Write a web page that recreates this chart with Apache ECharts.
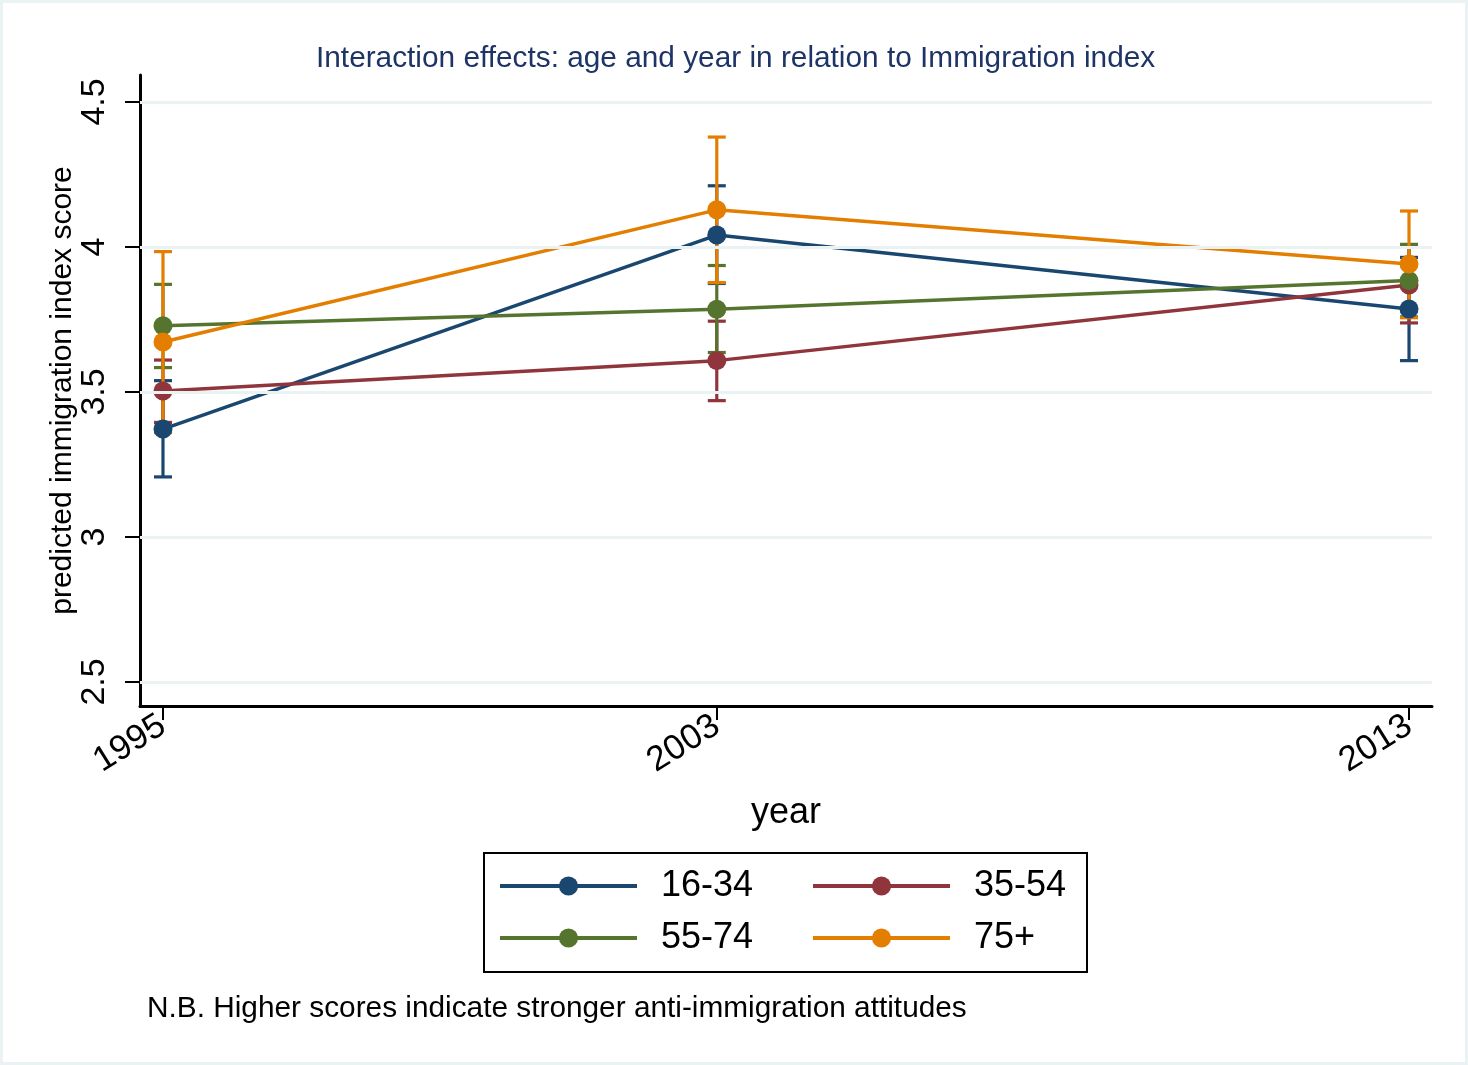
<!DOCTYPE html>
<html>
<head>
<meta charset="utf-8">
<script src="https://cdn.jsdelivr.net/npm/echarts@6/dist/echarts.min.js"></script>
<style>
html,body{margin:0;padding:0;background:#fff;}
#chart{width:1468px;height:1065px;}
</style>
</head>
<body>
<div id="chart"></div>
<script>
// ---- data ----
const years = [1995, 2003, 2013];
const groups = ['16-34', '35-54', '55-74', '75+'];
const yTicks = [2.5, 3, 3.5, 4, 4.5];

const est_16_34 = [3.372, 4.041, 3.786];
const lo_16_34  = [3.207, 3.874, 3.608];
const hi_16_34  = [3.539, 4.211, 3.964];

const est_35_54 = [3.503, 3.608, 3.869];
const lo_35_54  = [3.395, 3.470, 3.738];
const hi_35_54  = [3.610, 3.744, 4.000];

const est_55_74 = [3.728, 3.785, 3.884];
const lo_55_74  = [3.584, 3.636, 3.759];
const hi_55_74  = [3.871, 3.936, 4.009];

const est_75p = [3.672, 4.128, 3.941];
const lo_75p  = [3.360, 3.877, 3.756];
const hi_75p  = [3.984, 4.379, 4.124];

const colors = ['#1a476f', '#90353b', '#55752f', '#e37e00'];
const estimates = [est_16_34, est_35_54, est_55_74, est_75p];
const lows = [lo_16_34, lo_35_54, lo_55_74, lo_75p];
const highs = [hi_16_34, hi_35_54, hi_55_74, hi_75p];

const FONT = '"Liberation Sans", Arial, Helvetica, sans-serif';

const chart = echarts.init(document.getElementById('chart'), null, {renderer: 'canvas'});

const ciSeries = groups.map((g, i) => ({
  type: 'custom',
  name: g + ' CI',
  data: years.map((y, k) => [y, lows[i][k], highs[i][k]]),
  renderItem: function (params, api) {
    const x = api.value(0);
    const pLo = api.coord([x, api.value(1)]);
    const pHi = api.coord([x, api.value(2)]);
    const hw = 9;
    const style = {stroke: colors[i], lineWidth: 3.2, fill: null};
    return {
      type: 'group',
      children: [
        {type: 'line', shape: {x1: pLo[0], y1: pLo[1], x2: pHi[0], y2: pHi[1]}, style: style},
        {type: 'line', shape: {x1: pLo[0] - hw, y1: pLo[1], x2: pLo[0] + hw, y2: pLo[1]}, style: style},
        {type: 'line', shape: {x1: pHi[0] - hw, y1: pHi[1], x2: pHi[0] + hw, y2: pHi[1]}, style: style}
      ]
    };
  },
  silent: true,
  z: 2
}));

const lineSeries = groups.map((g, i) => ({
  type: 'line',
  name: g,
  data: years.map((y, k) => [y, estimates[i][k]]),
  symbol: 'circle',
  symbolSize: 19,
  showSymbol: true,
  lineStyle: {color: colors[i], width: 3.5},
  itemStyle: {color: colors[i]},
  emphasis: {disabled: true},
  animation: false,
  z: 3
}));

const gridSeries = {
  type: 'line',
  name: 'grid',
  data: [],
  silent: true,
  z: 1,
  markLine: {
    silent: true,
    symbol: ['none', 'none'],
    label: {show: false},
    lineStyle: {color: '#eaf2f3', width: 3, type: 'solid'},
    data: yTicks.map(v => ({yAxis: v})),
    animation: false
  }
};

const option = {
  animation: false,
  backgroundColor: '#ffffff',
  textStyle: {fontFamily: FONT},
  title: [
    {
      text: 'Interaction effects: age and year in relation to Immigration index',
      left: 316, top: 44, padding: 0,
      textStyle: {fontFamily: FONT, fontSize: 29.8, fontWeight: 'normal', color: '#1e3466'}
    },
    {
      text: 'N.B. Higher scores indicate stronger anti-immigration attitudes',
      left: 147, top: 994, padding: 0,
      textStyle: {fontFamily: FONT, fontSize: 29.8, fontWeight: 'normal', color: '#000'}
    }
  ],
  grid: {left: 140, right: 36, top: 75, bottom: 359, containLabel: false},
  xAxis: {
    type: 'value',
    min: 1994.668, max: 2013.332,
    name: 'year',
    nameLocation: 'middle',
    nameGap: 89,
    nameMoveOverlap: false,
    nameTextStyle: {fontFamily: FONT, fontSize: 36, color: '#000'},
    axisLine: {show: true, lineStyle: {color: '#000', width: 3}},
    axisTick: {show: true, length: 14, lineStyle: {color: '#000', width: 2}, customValues: years},
    axisLabel: {
      show: true, rotate: 32, margin: 17,
      fontFamily: FONT, fontSize: 35, color: '#000',
      customValues: years,
      formatter: v => String(v)
    },
    splitLine: {show: false}
  },
  yAxis: {
    type: 'value',
    min: 2.417, max: 4.593,
    name: 'predicted immigration index score',
    nameLocation: 'middle',
    nameRotate: 90,
    nameGap: 62,
    nameMoveOverlap: false,
    nameTextStyle: {fontFamily: FONT, fontSize: 30, color: '#000'},
    axisLine: {show: true, lineStyle: {color: '#000', width: 3}},
    axisTick: {show: true, length: 15, lineStyle: {color: '#000', width: 2}, customValues: yTicks},
    axisLabel: {
      show: true, rotate: 90, margin: 28,
      fontFamily: FONT, fontSize: 34, color: '#000',
      customValues: yTicks,
      formatter: v => String(v)
    },
    splitLine: {show: false}
  },
  legend: {
    data: groups,
    left: 498, top: 866,
    width: 620,
    orient: 'horizontal',
    itemWidth: 137,
    itemHeight: 24,
    itemGap: 12,
    padding: 0,
    selectedMode: false,
    lineStyle: {width: 4},
    textStyle: {fontFamily: FONT, fontSize: 36, color: '#000', width: 138, lineHeight: 40, padding: [0, 0, 0, 19]}
  },
  graphic: [
    {type: 'rect', shape: {x: 1.5, y: 1.5, width: 1465, height: 1062}, style: {fill: null, stroke: '#eaf2f3', lineWidth: 3}, silent: true, z: 0},
    {type: 'rect', shape: {x: 484, y: 853, width: 603, height: 119}, style: {fill: null, stroke: '#000', lineWidth: 2}, silent: true, z: 10}
  ],
  series: [gridSeries].concat(ciSeries, lineSeries)
};

chart.setOption(option);
</script>
</body>
</html>
